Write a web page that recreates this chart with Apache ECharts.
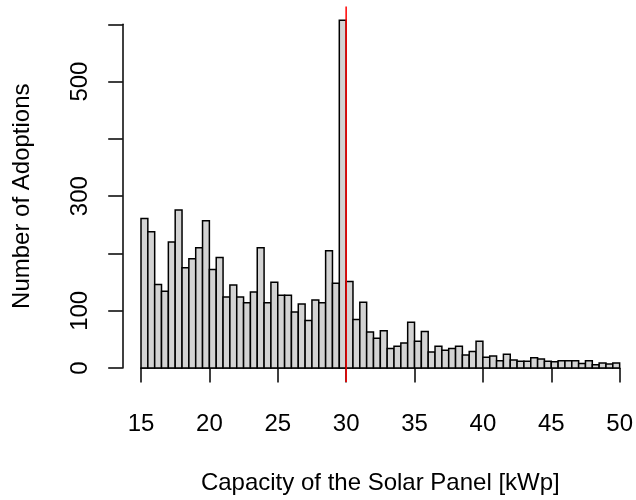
<!DOCTYPE html>
<html>
<head>
<meta charset="utf-8">
<script src="https://cdn.jsdelivr.net/npm/echarts@6/dist/echarts.min.js"></script>
<style>
  html, body { margin: 0; padding: 0; background: #fff; }
  #chart { width: 636px; height: 500px; }
</style>
</head>
<body>
<div id="chart"></div>
<script>
// histogram of installed capacity, bins of 0.5 kWp from 15 to 50
var binStart = 15;
var binWidth = 0.5;
var counts = [
  261, 238, 146, 134, 220, 276, 175, 191, 210, 257,
  172, 193, 124, 145, 124, 114, 133, 210, 114, 150,
  127, 127, 98, 112, 83, 119, 114, 205, 148, 607,
  151, 85, 115, 63, 52, 65, 34, 38, 44, 80,
  47, 64, 28, 38, 31, 34, 38, 23, 29, 47,
  19, 21, 13, 24, 14, 12, 12, 18, 16, 12,
  11, 13, 13, 13, 8, 13, 6, 9, 7, 9
];
var xTicks = [15, 20, 25, 30, 35, 40, 45, 50];
var yLabelsShown = [0, 100, 300, 500];
var cutoff = 30;

var chart = echarts.init(document.getElementById('chart'));

// [from, to, count] for each bin
var bins = counts.map(function (c, i) {
  var a = binStart + i * binWidth;
  return [a, a + binWidth, c];
});

// red reference line spans the whole plot region (R pads the range by 4%)
var maxCount = Math.max.apply(null, counts);
var pad = 0.04 * maxCount;

var font = 'Liberation Sans, Arial, Helvetica, sans-serif';

var option = {
  animation: false,
  backgroundColor: '#fff',
  grid: {
    left: 141,
    right: 12.7,
    top: 24.3,
    bottom: 131.7
  },
  xAxis: {
    type: 'value',
    min: xTicks[0],
    max: xTicks[xTicks.length - 1],
    interval: 5,
    offset: 13.4,
    name: 'Capacity of the Solar Panel [kWp]',
    nameLocation: 'middle',
    nameGap: 89.5,
    nameTextStyle: { color: '#000', fontSize: 24, fontFamily: font },
    axisLine: { lineStyle: { color: '#000', width: 1.5 } },
    axisTick: { length: 14.5, lineStyle: { color: '#000', width: 1.5 } },
    axisLabel: { color: '#000', fontSize: 24, fontFamily: font, margin: 31 },
    splitLine: { show: false }
  },
  yAxis: {
    type: 'value',
    min: 0,
    max: 600,
    interval: 100,
    offset: 18.3,
    name: 'Number of Adoptions',
    nameLocation: 'middle',
    nameGap: 88.5,
    nameTextStyle: { color: '#000', fontSize: 24, fontFamily: font },
    axisLine: { show: true, lineStyle: { color: '#000', width: 1.5 } },
    axisTick: { show: true, length: 14.5, lineStyle: { color: '#000', width: 1.5 } },
    axisLabel: {
      color: '#000',
      fontSize: 24,
      fontFamily: font,
      rotate: 90,
      margin: 30.5,
      formatter: function (v) {
        return yLabelsShown.indexOf(v) >= 0 ? String(v) : '';
      }
    },
    splitLine: { show: false }
  },
  series: [{
    type: 'custom',
    data: bins,
    encode: { x: [0, 1], y: 2 },
    clip: false,
    renderItem: function (params, api) {
      var p0 = api.coord([api.value(0), api.value(2)]);
      var p1 = api.coord([api.value(1), 0]);
      return {
        type: 'rect',
        shape: { x: p0[0], y: p0[1], width: p1[0] - p0[0], height: p1[1] - p0[1] },
        style: { fill: '#d3d3d3', stroke: '#000', lineWidth: 1.5 }
      };
    }
  }, {
    type: 'line',
    data: [[cutoff, -pad], [cutoff, maxCount + pad]],
    symbol: 'none',
    clip: false,
    silent: true,
    z: 5,
    lineStyle: { color: '#ff0000', width: 1.5 }
  }]
};
chart.setOption(option, true);
</script>
</body>
</html>
